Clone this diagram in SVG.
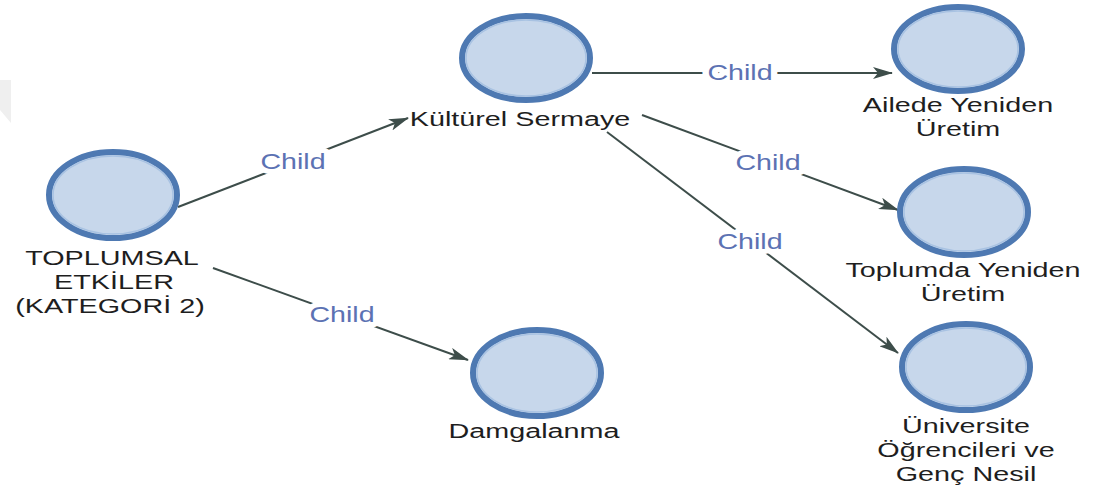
<svg xmlns="http://www.w3.org/2000/svg" width="1103" height="494" viewBox="0 0 1103 494">
<defs>
<style>
.node-o{fill:#c7d7eb;stroke:#4e79b2;stroke-width:6}
.node-i{fill:none;stroke:#a8c2e2;stroke-width:1.5}
.lbl{font-family:"Liberation Sans",Arial,sans-serif;font-size:21px;fill:#1e1e1e;text-anchor:middle}
.edge{stroke:#3d4d4a;stroke-width:2;fill:none;marker-end:url(#arr)}
.elbl{font-family:"Liberation Sans",Arial,sans-serif;font-size:22px;fill:#5c72b3;text-anchor:middle;paint-order:stroke;stroke:#ffffff;stroke-width:10px;stroke-linejoin:round}
</style>
<marker id="arr" viewBox="0 0 20 12" refX="19" refY="6" markerWidth="20" markerHeight="12" markerUnits="userSpaceOnUse" orient="auto">
<path d="M0,0 L20,6 L0,12 L5,6 Z" fill="#3d4d4a"/>
</marker>
</defs>
<rect width="1103" height="494" fill="#ffffff"/>
<polygon points="0,80 11,80 11,123 0,110" fill="#efefef"/>
<g id="connectors">
<line class="edge" x1="178" y1="207" x2="408" y2="118"/>
<line class="edge" x1="213" y1="268" x2="468" y2="360"/>
<line class="edge" x1="592" y1="73" x2="892" y2="73"/>
<line class="edge" x1="642" y1="115" x2="898" y2="210"/>
<line class="edge" x1="607" y1="132" x2="898" y2="353"/>
<text class="elbl" transform="translate(293,169) scale(1.3,1)">Child</text>
<text class="elbl" transform="translate(342,322) scale(1.3,1)">Child</text>
<text class="elbl" transform="translate(740,80) scale(1.3,1)">Child</text>
<text class="elbl" transform="translate(768,170) scale(1.3,1)">Child</text>
<text class="elbl" transform="translate(750,249) scale(1.3,1)">Child</text>
</g>
<g id="n-toplumsal">
<ellipse class="node-o" cx="113" cy="195" rx="64" ry="43"/>
<ellipse class="node-i" cx="113" cy="195" rx="60" ry="39"/>
<text class="lbl" transform="translate(112,265) scale(1.37,1)">TOPLUMSAL</text>
<text class="lbl" transform="translate(114,289) scale(1.37,1)">ETKİLER</text>
<text class="lbl" transform="translate(110,313) scale(1.37,1)">(KATEGORİ 2)</text>
</g>
<g id="n-kulturel">
<ellipse class="node-o" cx="526" cy="58" rx="64" ry="42"/>
<ellipse class="node-i" cx="526" cy="58" rx="60" ry="38"/>
<text class="lbl" transform="translate(520,126) scale(1.37,1)">Kültürel Sermaye</text>
</g>
<g id="n-ailede">
<ellipse class="node-o" cx="958" cy="49" rx="64" ry="42"/>
<ellipse class="node-i" cx="958" cy="49" rx="60" ry="38"/>
<text class="lbl" transform="translate(958,112) scale(1.37,1)">Ailede Yeniden</text>
<text class="lbl" transform="translate(958,136) scale(1.37,1)">Üretim</text>
</g>
<g id="n-toplumda">
<ellipse class="node-o" cx="964" cy="212" rx="64" ry="43"/>
<ellipse class="node-i" cx="964" cy="212" rx="60" ry="39"/>
<text class="lbl" transform="translate(963,277) scale(1.37,1)">Toplumda Yeniden</text>
<text class="lbl" transform="translate(963,301) scale(1.37,1)">Üretim</text>
</g>
<g id="n-universite">
<ellipse class="node-o" cx="966" cy="367" rx="64" ry="43"/>
<ellipse class="node-i" cx="966" cy="367" rx="60" ry="39"/>
<text class="lbl" transform="translate(966,433) scale(1.37,1)">Üniversite</text>
<text class="lbl" transform="translate(966,457) scale(1.37,1)">Öğrencileri ve</text>
<text class="lbl" transform="translate(966,481) scale(1.37,1)">Genç Nesil</text>
</g>
<g id="n-damgalanma">
<ellipse class="node-o" cx="537" cy="373" rx="64" ry="43"/>
<ellipse class="node-i" cx="537" cy="373" rx="60" ry="39"/>
<text class="lbl" transform="translate(534,438) scale(1.37,1)">Damgalanma</text>
</g>
</svg>
